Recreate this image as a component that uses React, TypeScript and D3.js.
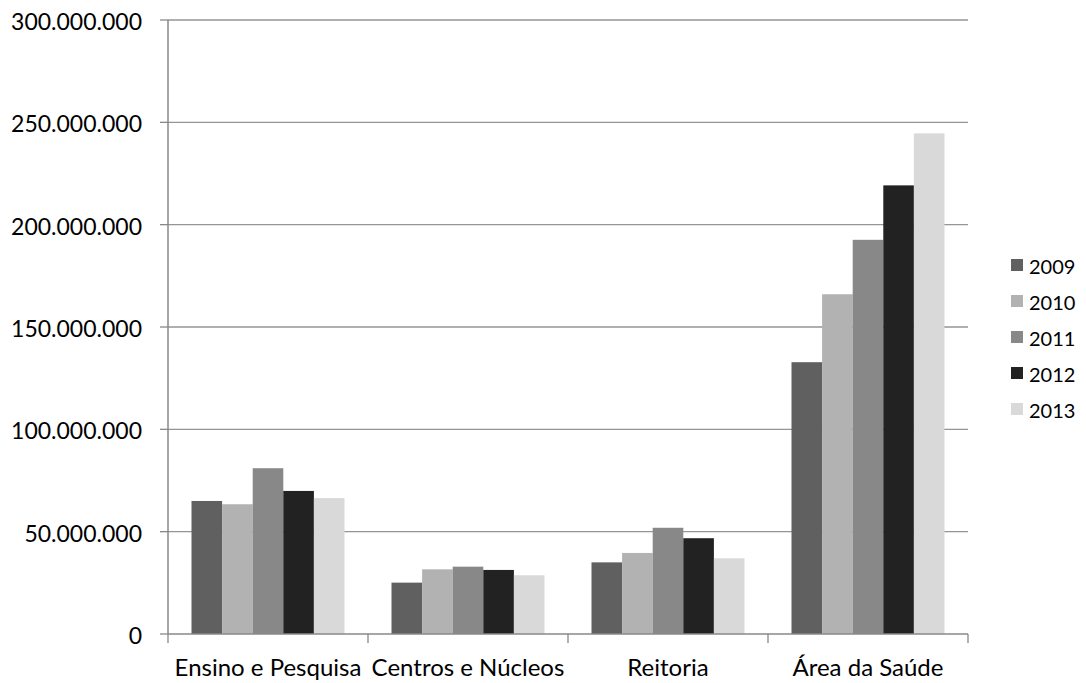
import React from "react";
import * as d3 from "d3";

const categories = ["Ensino e Pesquisa", "Centros e Núcleos", "Reitoria", "Área da Saúde"];
const years = ["2009", "2010", "2011", "2012", "2013"];
const values2009 = [65.0e6, 25.1e6, 35.0e6, 132.8e6];
const values2010 = [63.4e6, 31.6e6, 39.6e6, 166.0e6];
const values2011 = [81.0e6, 32.9e6, 51.9e6, 192.6e6];
const values2012 = [69.9e6, 31.3e6, 46.8e6, 219.2e6];
const values2013 = [66.4e6, 28.7e6, 37.0e6, 244.6e6];
const seriesValues = [values2009, values2010, values2011, values2012, values2013];
const colors = ["#606060", "#b2b2b2", "#888888", "#222222", "#d9d9d9"];
const yTicks = [0, 50e6, 100e6, 150e6, 200e6, 250e6, 300e6];

const W = 1086;
const H = 683;
const left = 168;
const right = 968;
const top = 20;
const bottom = 634;

const locale = d3.formatLocale({ decimal: ",", thousands: ".", grouping: [3], currency: ["", ""] });
const fmt = locale.format(",.0f");

export default function App() {
  const x = d3.scaleBand<string>().domain(categories).range([left, right]).padding(0);
  const bw = x.bandwidth();
  const inner = d3.scaleBand<string>().domain(years).range([bw * 0.1175, bw * 0.8825]).padding(0);
  const y = d3.scaleLinear().domain([0, 300e6]).range([bottom, top]);
  const font = "Lato, 'Open Sans', sans-serif";

  return (
    <svg width={W} height={H} style={{ position: "absolute", left: 0, top: 0, background: "#fff" }}>
      {yTicks.map((t) => (
        <g key={t}>
          {t > 0 && (
            <line x1={left} x2={right} y1={y(t)} y2={y(t)} stroke="#959595" strokeWidth={1.3} />
          )}
          <line x1={left - 8} x2={left} y1={y(t)} y2={y(t)} stroke="#888" strokeWidth={1.3} />
          <text x={142} y={y(t) + 1} textAnchor="end" dominantBaseline="central" fontFamily={font} fontSize={23} fill="#000">
            {fmt(t)}
          </text>
        </g>
      ))}
      {categories.map((c, ci) => (
        <g key={c} transform={`translate(${x(c)},0)`}>
          {years.map((yr, si) => {
            const v = seriesValues[si][ci];
            return (
              <rect key={yr} x={inner(yr)} y={y(v)} width={inner.bandwidth()} height={bottom - y(v)} fill={colors[si]} />
            );
          })}
        </g>
      ))}
      <line x1={left} x2={left} y1={top} y2={bottom} stroke="#888" strokeWidth={1.5} />
      <line x1={left} x2={right} y1={bottom} y2={bottom} stroke="#888" strokeWidth={1.5} />
      {[...categories.map((c) => x(c) as number), right].map((px, i) => (
        <line key={i} x1={px} x2={px} y1={bottom} y2={bottom + 9} stroke="#888" strokeWidth={1.3} />
      ))}
      {categories.map((c) => (
        <text key={c} x={(x(c) as number) + bw / 2} y={676} textAnchor="middle" fontFamily={font} fontSize={24} fill="#000">
          {c}
        </text>
      ))}
      {years.map((yr, i) => (
        <g key={yr} transform={`translate(1011,${265 + i * 36})`}>
          <rect x={0} y={-6} width={12} height={12} fill={colors[i]} />
          <text x={18} y={1} dominantBaseline="central" fontFamily={font} fontSize={20} fill="#000">
            {yr}
          </text>
        </g>
      ))}
    </svg>
  );
}
